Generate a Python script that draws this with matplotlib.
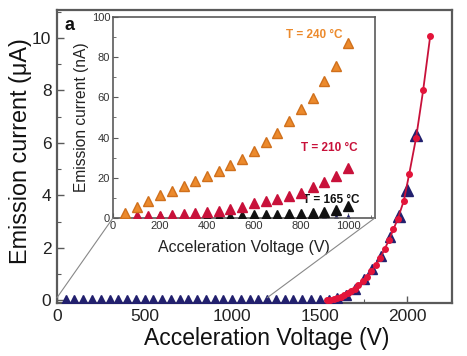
import matplotlib
matplotlib.use("Agg")
import matplotlib.pyplot as plt
from matplotlib.patches import ConnectionPatch
from matplotlib.ticker import MultipleLocator

plt.rcParams['font.family'] = ['Liberation Sans', 'DejaVu Sans']

# ---------------- main panel data ----------------
navy_v = [50, 100, 150, 200, 250, 300, 350, 400, 450, 500, 550, 600, 650, 700, 750,
          800, 850, 900, 950, 1000, 1050, 1100, 1150, 1200, 1250, 1300, 1350, 1400,
          1450, 1500, 1550, 1600, 1650, 1700, 1750, 1800, 1850, 1900, 1950, 2000, 2050]
navy_i = [0.02] * 31 + [0.08, 0.2, 0.45, 0.8, 1.2, 1.7, 2.4, 3.2, 4.2, 6.3]

red_v = [1540, 1560, 1580, 1600, 1620, 1640, 1660, 1680, 1700, 1720, 1745, 1770,
         1795, 1820, 1845, 1870, 1895, 1920, 1945, 1980, 2010, 2050, 2090, 2130]
red_i = [0.0, 0.02, 0.05, 0.09, 0.14, 0.2, 0.27, 0.35, 0.45, 0.57, 0.72, 0.9,
         1.1, 1.35, 1.62, 1.95, 2.3, 2.7, 3.1, 3.8, 4.8, 6.2, 8.0, 10.05]

# ---------------- inset data (nA) ----------------
ins_v = [50, 100, 150, 200, 250, 300, 350, 400, 450, 500,
         550, 600, 650, 700, 750, 800, 850, 900, 950, 1000]
i_240 = [2.6, 5.6, 8.5, 11.2, 13.5, 16.0, 18.3, 20.7, 23.2, 26.1,
         29.2, 33.2, 37.7, 42.3, 48.2, 54.3, 59.7, 68.0, 75.7, 87.3]
i_210 = [0.6, 0.7, 0.7, 1.0, 1.5, 1.8, 2.3, 2.8, 3.5, 4.3,
         5.5, 7.3, 8.2, 9.3, 10.7, 12.3, 15.3, 17.7, 21.0, 24.8]
i_165 = [0.1, 0.1, 0.1, 0.2, 0.2, 0.3, 0.3, 0.4, 0.5, 0.6,
         0.9, 1.2, 1.3, 1.6, 1.8, 2.1, 2.6, 3.0, 3.8, 6.0]
i_rt = [0.0] * 20

labels = ["T = 240 °C", "T = 210 °C", "T = 165 °C"]

NAVY = '#22206e'
RED = '#e3143a'
CRIMSON = '#c8113a'
ORANGE = '#ec8a2c'
SPINE = '#5a5a5a'

fig = plt.figure(figsize=(4.67, 3.56), dpi=100)
ax = fig.add_axes([0.122, 0.149, 0.846, 0.823])

split = 38
ax.plot(navy_v[:split], navy_i[:split], linestyle='none', marker='^', ms=6.5,
        color=NAVY, zorder=3)
ax.plot(navy_v[split:], navy_i[split:], linestyle='none', marker='^', ms=9,
        color=NAVY, zorder=3)
ax.plot(red_v, red_i, '-', color=CRIMSON, lw=1.3, zorder=4)
ax.plot(red_v, red_i, linestyle='none', marker='o', ms=4, color=RED, zorder=5)

ax.set_xlim(0, 2255)
ax.set_ylim(-0.1, 11.06)
ax.xaxis.set_major_locator(MultipleLocator(500))
ax.xaxis.set_minor_locator(MultipleLocator(250))
ax.yaxis.set_major_locator(MultipleLocator(2))
ax.yaxis.set_minor_locator(MultipleLocator(1))
ax.tick_params(which='both', direction='in', colors=SPINE, labelcolor='#222222')
ax.tick_params(which='major', length=5, width=1.0, labelsize=12.5, pad=4)
ax.tick_params(which='minor', length=3, width=0.8)
for s in ax.spines.values():
    s.set_color(SPINE)
    s.set_linewidth(1.6)
ax.set_xlabel("Acceleration Voltage (V)", fontsize=16.5, color='#111111')
ax.xaxis.set_label_coords(0.53, -0.082)
ax.set_ylabel("Emission current (μA)", fontsize=16.8, color='#111111')
ax.yaxis.set_label_coords(-0.062, 0.52)
ax.text(0.018, 0.975, "a", transform=ax.transAxes, fontsize=13, fontweight='bold',
        va='top', ha='left', color='#111111')

# ---------------- inset ----------------
ins = fig.add_axes([0.242, 0.388, 0.561, 0.564])
ins.plot(ins_v, i_rt, linestyle='none', marker='^', ms=4, color=NAVY, zorder=2)
ins.plot(ins_v, i_165, linestyle='none', marker='^', ms=6.5, color='#111111', zorder=3)
ins.plot(ins_v, i_210, linestyle='none', marker='^', ms=6.5, color=CRIMSON, zorder=4)
ins.plot(ins_v, i_240, linestyle='none', marker='^', ms=6.5, color=ORANGE,
         mec='#d0701c', zorder=5)
ins.set_xlim(0, 1115)
ins.set_ylim(0, 100)
ins.xaxis.set_major_locator(MultipleLocator(200))
ins.xaxis.set_minor_locator(MultipleLocator(100))
ins.yaxis.set_major_locator(MultipleLocator(20))
ins.yaxis.set_minor_locator(MultipleLocator(10))
ins.tick_params(which='both', direction='in', colors=SPINE, labelcolor='#333333')
ins.tick_params(which='major', length=3.5, width=0.8, labelsize=8, pad=2)
ins.tick_params(which='minor', length=2, width=0.6)
for s in ins.spines.values():
    s.set_color(SPINE)
    s.set_linewidth(1.2)
ins.set_xlabel("Acceleration Voltage (V)", fontsize=11.5, color='#222222', labelpad=7)
ins.set_ylabel("Emission current (nA)", fontsize=11.2, color='#222222', labelpad=2)
ins.text(975, 91, labels[0], color=ORANGE, fontsize=8.5, fontweight='bold',
         ha='right', va='center')
ins.text(1040, 35, labels[1], color=CRIMSON, fontsize=8.5, fontweight='bold',
         ha='right', va='center')
ins.text(1050, 9, labels[2], color='#111111', fontsize=8.5, fontweight='bold',
         ha='right', va='center')

# connector lines from inset to the zoomed region of the main axes
for xa, xb in [(0, 0), (1, 1200)]:
    con = ConnectionPatch(xyA=(xa, 0), coordsA=ins.transAxes,
                          xyB=(xb, 0.1), coordsB=ax.transData,
                          color='#888888', lw=0.8, zorder=1)
    fig.add_artist(con)

fig.savefig("out.png", dpi=100)
